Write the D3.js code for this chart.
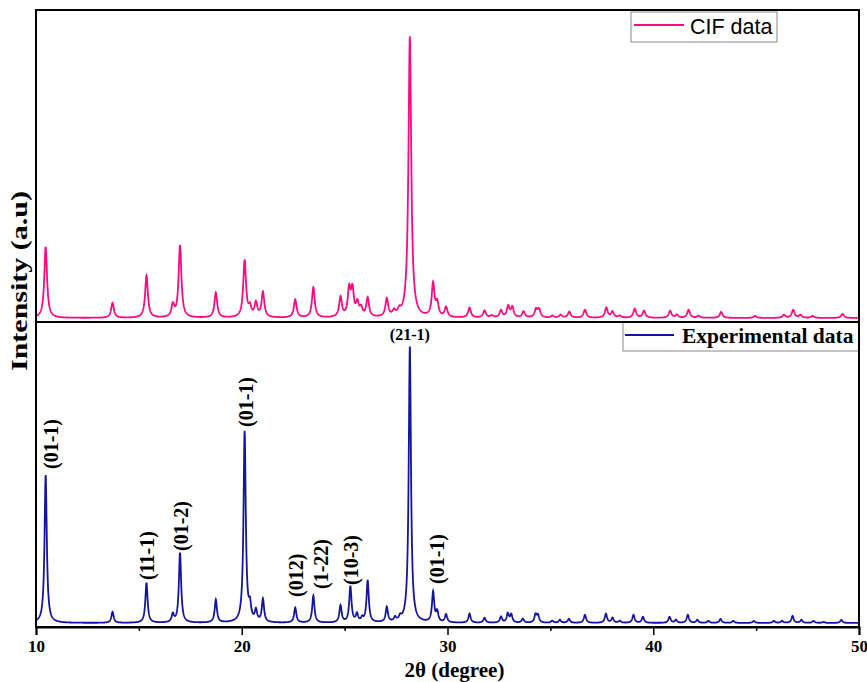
<!DOCTYPE html>
<html>
<head>
<meta charset="utf-8">
<script src="https://cdn.jsdelivr.net/npm/d3@7"></script>
<style>
    body { margin: 0; background: #fff; }
    #chart { width: 867px; height: 682px; }
</style>
</head>
<body>
<div id="chart"></div>
<script>
// peak positions (2theta, degree) and intensities (a.u.)
var expPos = [10.47, 13.72, 15.37, 16.65, 17.0, 18.74, 20.14, 20.4, 20.69, 21.03, 22.6, 23.48, 24.8, 25.28, 25.6, 25.85,
    26.12, 27.05, 27.45, 27.7, 28.17, 29.3, 29.5, 29.93, 31.07, 31.8, 32.6, 32.93, 33.1, 33.66, 34.28, 34.4, 35.09,
    35.46, 35.9, 36.68, 37.7, 38.02, 38.37, 39.04, 39.5, 40.79, 41.1, 41.68, 42.14, 42.68, 43.27, 43.89, 44.89,
    45.86, 46.26, 46.77, 47.2, 47.79, 48.28, 49.14];
var expInt = [148, 11, 40, 8, 70, 23, 191, 14, 11, 23, 15, 27, 17, 36, 8, 4,
    42, 15, 4, 4, 276, 30, 10, 8, 9, 5, 6, 9, 8, 4, 8, 7, 2,
    3, 4, 8, 9, 5, 2, 8, 6, 6, 3, 8, 3, 2, 4, 2, 2,
    2, 2, 7, 3, 2, 1, 3];

var cifPos = [10.47, 13.72, 15.37, 16.65, 17.0, 18.74, 20.14, 20.4, 20.69, 21.03, 22.6, 23.48, 24.8, 25.22, 25.38, 25.62,
    25.8, 26.12, 27.05, 27.4, 27.65, 28.17, 29.3, 29.5, 29.93, 31.07, 31.8, 32.15, 32.6, 32.95, 33.15, 33.7, 34.3,
    34.45, 35.1, 35.5, 35.92, 36.68, 37.72, 38.02, 38.37, 39.1, 39.55, 40.82, 41.15, 41.72, 42.2, 43.3, 44.95,
    46.35, 46.8, 47.15, 47.75, 49.2];
var cifInt = [71, 15, 42, 12, 72, 25, 57, 9, 14, 25, 18, 30, 20, 27, 26, 13,
    8, 19, 18, 5, 5, 281, 33, 13, 10, 10, 7, 2, 7, 11, 10, 6, 8,
    8, 2, 3, 6, 8, 10, 6, 2, 9, 7, 7, 3, 8, 2, 6, 2,
    3, 8, 3, 2, 4];

// peak widths (FWHM, degree)
var expFwhm = 0.13;
var cifFwhm = 0.16;

// indexed reflections on the experimental pattern
var hklText = ["(01-1)", "(11-1)", "(01-2)", "(01-1)", "(012)", "(1-22)", "(10-3)", "(01-1)"];
var hklPos = [10.75, 15.4, 17.05, 20.2, 22.63, 23.85, 25.3, 29.5];
var hklInt = [154, 43, 72, 196, 26, 34, 38, 39];

var xTicks = [10, 20, 30, 40, 50];
var xMinorTicks = [15, 25, 35, 45];
var xDomain = [10, 50];


function XrdChart() {
    var self = this;
    self.init();
}

XrdChart.prototype.profile = function (pos, inten, fwhm) {
    // sum of lorentzian line shapes, one per peak
    var g = fwhm / 2;
    var pts = [];
    for (var t = xDomain[0] * 100; t <= xDomain[1] * 100; t++) {
        var x = t / 100;
        var y = 0;
        for (var k = 0; k < pos.length; k++) {
            var d = (x - pos[k]) / g;
            y += inten[k] / (1 + d * d);
        }
        pts.push({ x: x, y: y });
    }
    return pts;
};

XrdChart.prototype.init = function () {
    var self = this;

    self.margin = { top: 10, right: 8, bottom: 55, left: 36 };
    self.svgWidth = 867;
    self.svgHeight = 682;
    var plotRight = self.svgWidth - self.margin.right;
    var plotBottom = self.svgHeight - self.margin.bottom;
    var mid = 322;

    self.svg = d3.select("#chart").append("svg")
        .attr("width", self.svgWidth)
        .attr("height", self.svgHeight)
        .style("font-family", "'Liberation Serif', 'Times New Roman', serif");

    var xScale = d3.scaleLinear().domain(xDomain).range([self.margin.left, plotRight]);
    var yTop = d3.scaleLinear().domain([-4, 308]).range([mid, self.margin.top]);
    var yBot = d3.scaleLinear().domain([-4, 301]).range([plotBottom, mid]);

    var cifLine = d3.line().x(function (d) { return xScale(d.x); }).y(function (d) { return yTop(d.y); });
    var expLine = d3.line().x(function (d) { return xScale(d.x); }).y(function (d) { return yBot(d.y); });

    self.svg.append("path").datum(self.profile(cifPos, cifInt, cifFwhm))
        .attr("d", cifLine).attr("fill", "none").attr("stroke", "#ff0a82").attr("stroke-width", 1.8);

    self.svg.append("path").datum(self.profile(expPos, expInt, expFwhm))
        .attr("d", expLine).attr("fill", "none").attr("stroke", "#1414a0").attr("stroke-width", 1.8);

    // frame and divider
    self.svg.append("rect")
        .attr("x", self.margin.left).attr("y", self.margin.top)
        .attr("width", plotRight - self.margin.left).attr("height", plotBottom - self.margin.top)
        .attr("fill", "none").attr("stroke", "#000").attr("stroke-width", 2);
    self.svg.append("line")
        .attr("x1", self.margin.left).attr("x2", plotRight).attr("y1", mid).attr("y2", mid)
        .attr("stroke", "#000").attr("stroke-width", 2.2);

    // x axis
    var xAxis = d3.axisBottom(xScale).tickValues(xTicks).tickSize(8).tickFormat(d3.format("d"));
    var gx = self.svg.append("g").attr("transform", "translate(0," + plotBottom + ")").call(xAxis);
    gx.select(".domain").attr("stroke-width", 2);
    gx.selectAll(".tick line").attr("stroke-width", 1.5);
    gx.selectAll(".tick text")
        .attr("dy", "0.8em")
        .style("font-size", "17px").style("font-weight", "bold")
        .style("font-family", "'Liberation Serif', serif").attr("fill", "#000");
    var xMinor = d3.axisBottom(xScale).tickValues(xMinorTicks).tickSize(4).tickFormat("");
    var gm = self.svg.append("g").attr("transform", "translate(0," + plotBottom + ")").call(xMinor);
    gm.select(".domain").remove();
    gm.selectAll(".tick line").attr("stroke-width", 1.5);

    self.svg.append("text")
        .attr("x", (self.margin.left + plotRight) / 2 + 7).attr("y", 677)
        .attr("text-anchor", "middle")
        .style("font-size", "21px").style("font-weight", "bold")
        .text("2θ (degree)");

    self.svg.append("text")
        .attr("transform", "translate(27,281) rotate(-90)")
        .attr("text-anchor", "middle")
        .attr("textLength", 180).attr("lengthAdjust", "spacingAndGlyphs")
        .style("font-size", "23px").style("font-weight", "bold")
        .text("Intensity (a.u)");

    // hkl labels
    hklText.forEach(function (t, i) {
        var px = xScale(hklPos[i]);
        var py = yBot(hklInt[i]);
        self.svg.append("text")
            .attr("transform", "translate(" + px + "," + py + ") rotate(-90)")
            .attr("dy", "0.35em")
            .style("font-size", "20px").style("font-weight", "bold")
            .text(t);
    });

    self.svg.append("text")
        .attr("x", xScale(28.17)).attr("y", yBot(280) - 3)
        .attr("text-anchor", "middle")
        .style("font-size", "16px").style("font-weight", "bold")
        .text("(21-1)");

    // legends
    var lg1 = self.svg.append("g").attr("transform", "translate(631,12)");
    lg1.append("rect").attr("width", 146).attr("height", 30)
        .attr("fill", "#fff").attr("stroke", "#888").attr("stroke-width", 1);
    lg1.append("line").attr("x1", 3).attr("x2", 53).attr("y1", 13).attr("y2", 13)
        .attr("stroke", "#ff0a82").attr("stroke-width", 2);
    lg1.append("text").attr("x", 59).attr("y", 22)
        .style("font-family", "'Liberation Sans', Arial, sans-serif").style("font-size", "21.5px")
        .text("CIF data");

    var lg2 = self.svg.append("g").attr("transform", "translate(623," + mid + ")");
    lg2.append("rect").attr("width", plotRight - 623).attr("height", 29)
        .attr("fill", "#fff").attr("stroke", "#888").attr("stroke-width", 1);
    lg2.append("line").attr("x1", 2).attr("x2", 51).attr("y1", 13).attr("y2", 13)
        .attr("stroke", "#1414a0").attr("stroke-width", 2);
    lg2.append("text").attr("x", 59).attr("y", 21)
        .style("font-size", "21.5px").style("font-weight", "bold")
        .text("Experimental data");

    // redraw the edges that the legend boxes cover
    self.svg.append("line")
        .attr("x1", self.margin.left).attr("x2", plotRight).attr("y1", mid).attr("y2", mid)
        .attr("stroke", "#000").attr("stroke-width", 2.2);
    self.svg.append("line")
        .attr("x1", plotRight).attr("x2", plotRight).attr("y1", self.margin.top).attr("y2", plotBottom)
        .attr("stroke", "#000").attr("stroke-width", 2);
};

new XrdChart();
</script>
</body>
</html>
